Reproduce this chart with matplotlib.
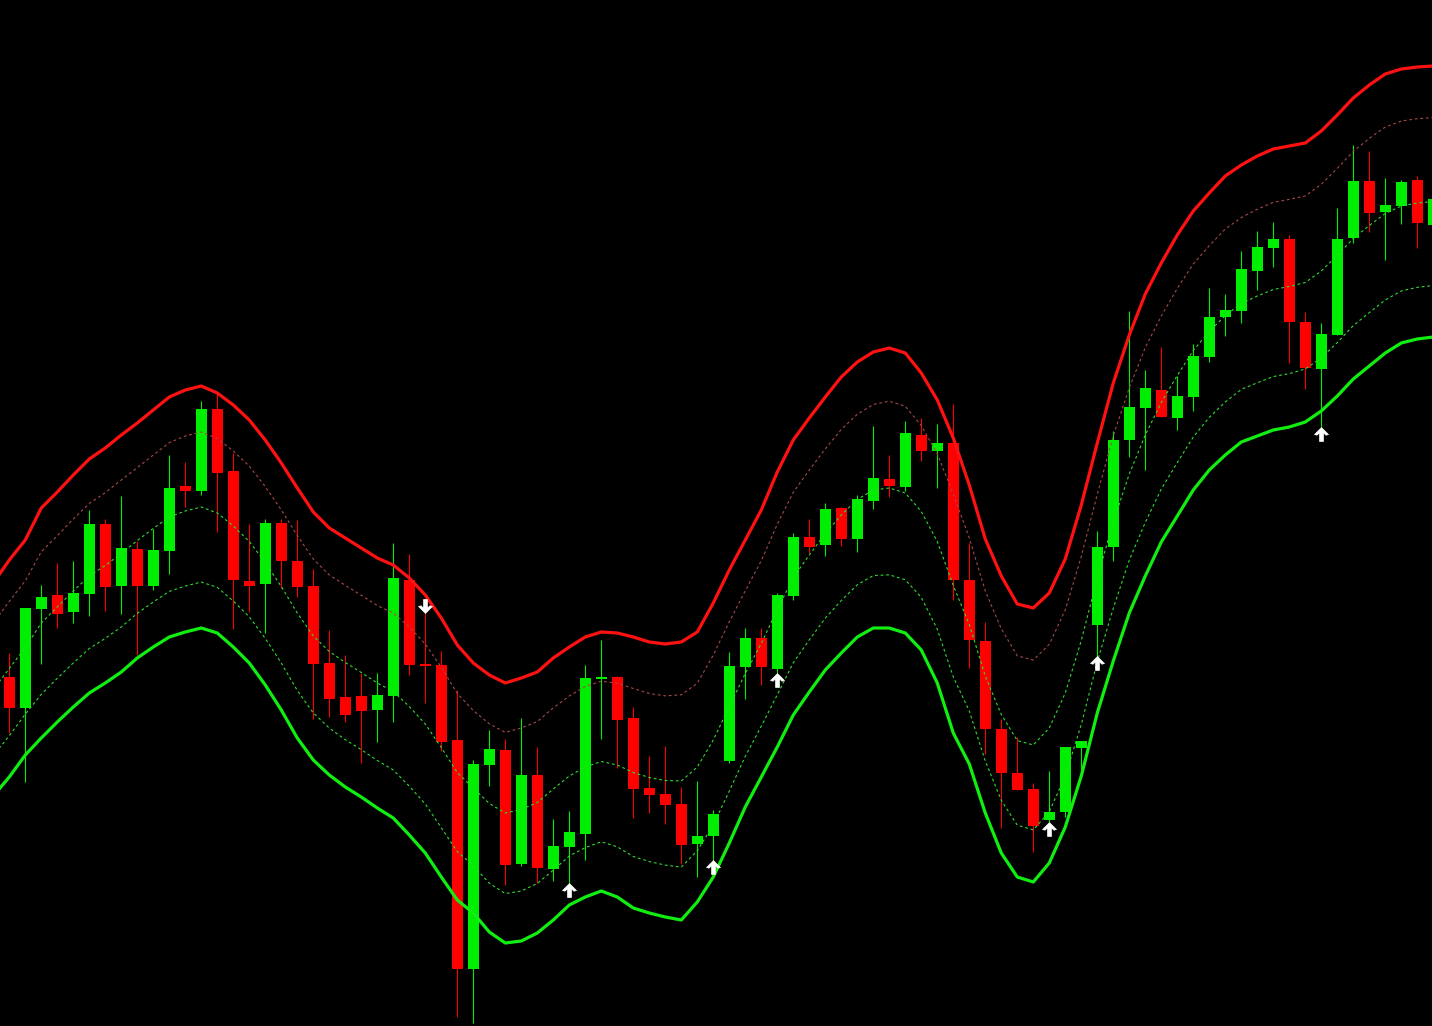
import matplotlib
matplotlib.use('Agg')
import matplotlib.pyplot as plt
import numpy as np
from matplotlib.path import Path

# Candle levels, read off the screenshot as depth from the top edge of the chart
# (so the y axis is inverted: smaller number = higher price)
bull = [0, 1, 1, 0, 1, 1, 0, 1, 0, 1,
        1, 0, 1, 0, 0, 0, 1, 0, 0, 0,
        0, 0, 0, 1, 1, 0, 0, 0, 0, 1,
        1, 0, 1, 0, 1, 1, 1, 1, 0, 0,
        0, 0, 0, 1, 1, 1, 1, 0, 1, 1,
        0, 1, 0, 1, 1, 0, 1, 0, 1, 0,
        0, 0, 0, 0, 0, 1, 1, 1, 1, 1,
        1, 1, 0, 1, 1, 1, 1, 1, 1, 1,
        0, 0, 1, 1, 1, 0, 1, 1, 0, 1]
body_top = [677, 608, 597, 595, 593, 524, 524, 548, 549, 550,
            488, 486, 409, 409, 471, 581, 523, 523, 561, 586,
            663, 697, 696, 695, 578, 580, 664, 665, 740, 764,
            749, 750, 775, 775, 846, 832, 678, 677, 677, 718,
            788, 794, 804, 836, 814, 666, 638, 638, 595, 537,
            537, 509, 508, 499, 478, 479, 433, 435, 443, 443,
            580, 641, 729, 773, 789, 812, 747, 741, 547, 440,
            407, 388, 390, 396, 356, 317, 310, 269, 247, 239,
            239, 322, 334, 239, 181, 181, 205, 182, 180, 199]
body_bot = [708, 708, 609, 614, 612, 594, 587, 586, 586, 586,
            551, 491, 491, 473, 580, 586, 584, 561, 587, 664,
            699, 715, 711, 710, 696, 665, 666, 742, 969, 969,
            765, 865, 864, 868, 869, 847, 834, 679, 720, 789,
            795, 805, 845, 844, 836, 761, 667, 667, 669, 596,
            547, 545, 539, 539, 501, 486, 487, 451, 451, 580,
            640, 729, 773, 790, 826, 820, 812, 748, 625, 547,
            440, 408, 417, 418, 397, 357, 317, 311, 271, 248,
            322, 368, 369, 335, 238, 213, 212, 206, 223, 225]
wick_top = [653, 608, 585, 563, 561, 510, 519, 496, 541, 529,
            455, 462, 401, 394, 453, 524, 519, 519, 520, 569,
            630, 655, 673, 673, 543, 554, 613, 651, 690, 760,
            730, 739, 718, 747, 819, 811, 665, 640, 676, 707,
            756, 746, 787, 781, 810, 652, 628, 628, 593, 533,
            519, 503, 507, 495, 426, 455, 421, 418, 424, 404,
            543, 622, 719, 737, 783, 771, 747, 741, 531, 431,
            311, 370, 347, 376, 344, 288, 294, 251, 231, 222,
            235, 312, 323, 208, 145, 151, 178, 180, 176, 195]
wick_bot = [733, 782, 664, 628, 623, 616, 611, 614, 655, 590,
            574, 507, 495, 532, 629, 612, 633, 588, 597, 719,
            717, 722, 763, 742, 722, 675, 703, 751, 1017, 1023,
            786, 885, 866, 883, 881, 883, 860, 739, 768, 818,
            813, 824, 864, 877, 860, 763, 699, 685, 673, 600,
            553, 556, 546, 552, 509, 497, 491, 461, 488, 600,
            668, 754, 828, 790, 852, 822, 817, 770, 656, 561,
            457, 470, 417, 430, 411, 362, 336, 323, 290, 267,
            363, 389, 427, 335, 243, 232, 260, 224, 248, 230]

# Envelope lines, one value per bar starting one bar before the first candle
upper_band = [583,
              560, 540, 508, 492, 475, 459, 448, 435, 423, 410,
              397, 390, 386, 393, 405, 420, 440, 463, 488, 512,
              528, 538, 548, 558, 565, 578, 595, 618, 645, 663,
              675, 683, 678, 672, 658, 647, 637, 632, 633, 637,
              642, 644, 642, 632, 603, 570, 540, 510, 472, 440,
              418, 397, 377, 362, 352, 348, 353, 373, 400, 438,
              485, 539, 576, 604, 608, 593, 559, 505, 443, 383,
              335, 294, 263, 235, 211, 193, 176, 165, 156, 149,
              146, 143, 131, 115, 98, 85, 74, 69, 67, 66]
lower_band = [796,
              777, 755, 738, 722, 707, 693, 683, 672, 658, 647,
              637, 632, 628, 633, 647, 663, 685, 710, 738, 760,
              775, 787, 797, 808, 818, 835, 853, 877, 900, 913,
              932, 943, 941, 933, 920, 905, 897, 891, 897, 908,
              913, 917, 920, 902, 877, 843, 807, 777, 747, 715,
              692, 670, 653, 637, 628, 628, 633, 650, 683, 733,
              764, 813, 853, 877, 882, 863, 827, 776, 713, 661,
              613, 576, 542, 516, 490, 470, 455, 442, 436, 430,
              427, 422, 411, 396, 379, 366, 353, 343, 339, 337]

# signal arrows (bar index)
sell_signals = [26]
buy_signals = [35, 44, 48, 65, 68, 82]

RED = '#ff0000'
GREEN = '#00ee00'

fig = plt.figure(figsize=(14.32, 10.26), dpi=100, facecolor='black')
ax = fig.add_axes([0, 0, 1, 1])
ax.set_facecolor('black')

x = np.arange(len(body_top))
cols = [GREEN if b else RED for b in bull]
top = np.array(body_top)
bot = np.array(body_bot)

# candles
ax.vlines(x, wick_top, wick_bot, colors=cols, linewidth=0.8, zorder=2)
ax.bar(x, np.maximum(bot - top, 1.5), bottom=top, width=0.69, color=cols,
       linewidth=0, zorder=3)

# bands
bx = np.arange(-1, len(upper_band) - 1)
up = np.array(upper_band, dtype=float)
lo = np.array(lower_band, dtype=float)
span = lo - up
ax.plot(bx, up, color='#ff1111', lw=2.3, zorder=4, solid_joinstyle='round')
ax.plot(bx, lo, color='#11ee11', lw=2.3, zorder=4, solid_joinstyle='round')
ax.plot(bx, up + 0.19 * span, color='#a84848', lw=0.8, ls=(0, (2.5, 2.5)), zorder=4)
ax.plot(bx, up + 0.5 * span, color='#2fdc2f', lw=0.8, ls=(0, (2.5, 2.5)), zorder=4)
ax.plot(bx, lo - 0.19 * span, color='#2fdc2f', lw=0.8, ls=(0, (2.5, 2.5)), zorder=4)

# arrow markers (chevron head + stem)
verts = [(0, 0.5), (0.5, 0.0), (0.32, -0.05), (0.14, 0.12), (0.14, -0.5),
         (-0.14, -0.5), (-0.14, 0.12), (-0.32, -0.05), (-0.5, 0.0), (0, 0.5)]
up_arrow = Path(verts)
down_arrow = Path([(vx, -vy) for vx, vy in verts])

wt = np.array(wick_top)
wb = np.array(wick_bot)
ax.plot(buy_signals, wb[buy_signals] + 7, ls='none', marker=up_arrow,
        ms=10, color='white', mec='white', mew=0.5, zorder=5)
ax.plot(sell_signals, wt[sell_signals] - 7, ls='none', marker=down_arrow,
        ms=10, color='white', mec='white', mew=0.5, zorder=5)

ax.set_xlim(-0.58, 88.92)
ax.set_ylim(1026, 0)
ax.axis('off')

fig.savefig('out.png', dpi=100, facecolor='black')
